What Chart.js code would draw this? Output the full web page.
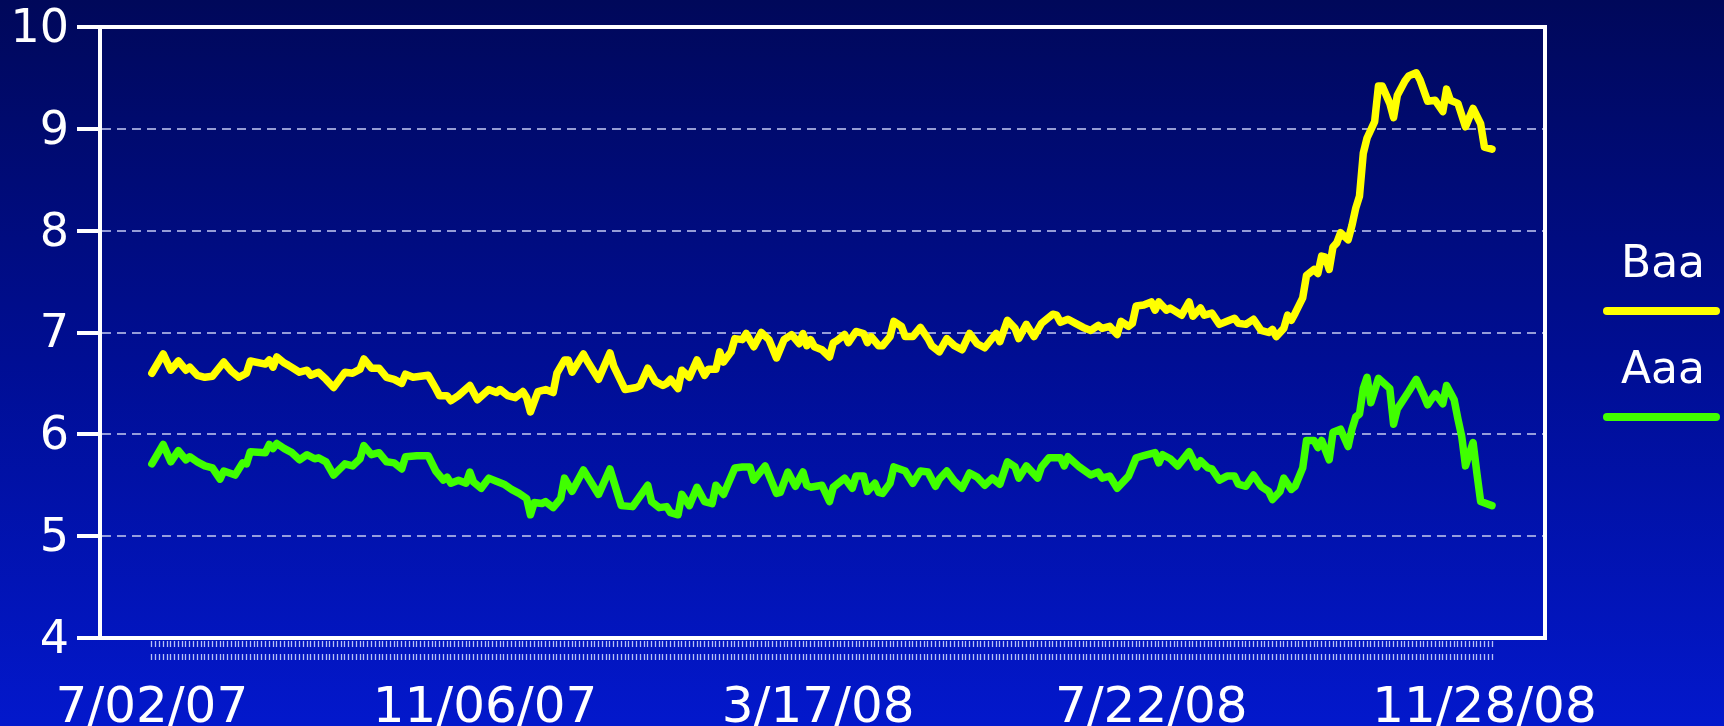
<!DOCTYPE html>
<html>
<head>
<meta charset="utf-8">
<script src="https://cdn.jsdelivr.net/npm/chart.js@4.4.1/dist/chart.umd.min.js"></script>
<style>
    html, body { margin: 0; padding: 0; background: #000c7a; }
    #wrap { width: 1724px; height: 726px; }
</style>
</head>
<body>
<div id="wrap"><canvas id="yieldChart" width="1724" height="726"></canvas></div>
<script>
// trading days on the x axis, 7/02/07 .. early 12/08
const tradingDays = 355;
const tickDays = [0, 88, 176, 264, 352];
const tickLabels = ['7/02/07', '11/06/07', '3/17/08', '7/22/08', '11/28/08'];

// Baa yields
const baaDays = [0,3,5,7,9,10,12,14,16,19,21,23,25,26,30,31,32,33,35,36,39,41,42,44,46,48,51,53,55,56,58,60,62,64,66,67,69,73,75,76,78,79,81,84,86,89,91,92,94,96,98,99,100,102,104,106,107,109,110,111,114,115,118,121,122,125,128,129,131,133,135,136,137,139,140,142,144,146,147,149,150,151,153,154,156,157,159,161,163,165,167,169,171,172,173,174,175,177,179,180,181,183,184,186,188,189,190,192,193,195,196,198,199,201,203,205,206,208,210,212,214,216,218,220,223,224,226,228,229,231,233,235,238,239,240,242,244,246,248,250,251,253,255,256,258,259,260,262,264,265,266,268,269,272,274,275,277,278,280,282,284,286,287,289,291,293,295,296,297,299,300,301,302,304,305,307,308,309,310,311,312,313,314,316,317,318,319,320,321,323,324,325,327,328,329,331,332,334,335,337,339,341,342,343,345,347,349,351,352,354];
const baaRates = [6.60,6.79,6.63,6.72,6.63,6.66,6.58,6.56,6.57,6.71,6.62,6.56,6.60,6.72,6.69,6.73,6.66,6.76,6.70,6.68,6.61,6.63,6.58,6.61,6.54,6.46,6.61,6.60,6.64,6.74,6.65,6.65,6.56,6.54,6.50,6.59,6.56,6.58,6.45,6.38,6.38,6.33,6.38,6.48,6.34,6.44,6.41,6.44,6.38,6.36,6.42,6.36,6.22,6.42,6.44,6.41,6.60,6.73,6.73,6.61,6.79,6.72,6.54,6.80,6.67,6.44,6.46,6.48,6.65,6.52,6.48,6.50,6.54,6.45,6.63,6.56,6.73,6.58,6.64,6.64,6.81,6.71,6.81,6.94,6.93,6.99,6.86,7.00,6.93,6.75,6.93,6.98,6.89,6.99,6.87,6.93,6.86,6.83,6.76,6.90,6.92,6.98,6.90,7.01,6.99,6.90,6.96,6.87,6.87,6.96,7.11,7.06,6.96,6.96,7.05,6.94,6.87,6.81,6.94,6.87,6.83,6.99,6.89,6.85,6.99,6.91,7.12,7.04,6.94,7.08,6.96,7.09,7.18,7.17,7.10,7.13,7.09,7.05,7.02,7.07,7.04,7.06,6.98,7.11,7.06,7.09,7.26,7.27,7.30,7.22,7.30,7.22,7.24,7.17,7.30,7.16,7.24,7.17,7.19,7.08,7.11,7.14,7.09,7.08,7.13,7.02,7.00,7.03,6.96,7.04,7.17,7.12,7.19,7.34,7.56,7.62,7.58,7.75,7.74,7.62,7.84,7.88,7.98,7.91,8.05,8.22,8.34,8.76,8.91,9.07,9.42,9.42,9.25,9.11,9.33,9.47,9.52,9.55,9.48,9.27,9.28,9.17,9.39,9.28,9.25,9.02,9.20,9.05,8.82,8.80];

// Aaa yields
const aaaDays = [0,3,5,7,9,10,12,14,16,18,19,22,24,25,26,30,31,32,33,35,37,39,41,43,44,46,48,51,53,55,56,58,60,62,64,66,67,70,73,75,77,78,79,81,83,84,85,87,89,91,93,95,97,99,100,101,103,104,106,108,109,111,114,118,121,124,127,131,132,134,136,137,139,140,142,144,146,148,149,151,154,156,158,159,162,165,166,168,170,172,173,174,177,179,180,183,185,186,188,189,191,192,193,195,196,199,201,203,205,207,208,210,212,214,216,218,220,222,224,226,228,229,231,234,235,237,240,241,242,245,248,250,251,253,255,257,258,260,262,265,266,267,269,271,274,276,277,279,280,282,284,286,287,289,291,293,295,296,298,299,301,302,304,305,307,308,309,311,312,314,316,317,318,319,320,321,322,324,327,328,329,332,334,336,337,339,341,342,344,345,346,347,349,350,351,354];
const aaaRates = [5.71,5.90,5.73,5.84,5.75,5.78,5.73,5.69,5.67,5.56,5.64,5.60,5.72,5.71,5.83,5.82,5.90,5.86,5.91,5.86,5.82,5.75,5.80,5.76,5.77,5.73,5.60,5.71,5.69,5.76,5.89,5.80,5.82,5.73,5.72,5.66,5.78,5.79,5.79,5.64,5.55,5.58,5.52,5.55,5.52,5.63,5.53,5.47,5.57,5.54,5.51,5.46,5.42,5.37,5.21,5.33,5.32,5.34,5.28,5.37,5.57,5.44,5.65,5.41,5.66,5.30,5.29,5.50,5.34,5.28,5.29,5.23,5.21,5.41,5.30,5.48,5.34,5.32,5.50,5.41,5.67,5.68,5.68,5.55,5.69,5.42,5.43,5.63,5.49,5.63,5.50,5.48,5.50,5.34,5.48,5.57,5.47,5.59,5.59,5.44,5.52,5.43,5.42,5.52,5.68,5.64,5.52,5.64,5.63,5.49,5.56,5.64,5.54,5.47,5.62,5.58,5.50,5.57,5.51,5.73,5.68,5.57,5.69,5.57,5.68,5.77,5.77,5.69,5.78,5.68,5.60,5.63,5.57,5.59,5.47,5.55,5.59,5.77,5.79,5.82,5.72,5.80,5.76,5.69,5.83,5.68,5.74,5.67,5.66,5.55,5.59,5.59,5.51,5.49,5.60,5.49,5.44,5.36,5.44,5.57,5.46,5.49,5.67,5.94,5.94,5.87,5.94,5.75,6.02,6.05,5.88,6.05,6.17,6.20,6.45,6.56,6.31,6.55,6.45,6.10,6.25,6.42,6.54,6.38,6.29,6.40,6.30,6.48,6.34,6.15,5.98,5.69,5.92,5.62,5.34,5.30];

const toPoints = (days, rates) => days.map((d, i) => ({ x: d, y: rates[i] }));

Chart.defaults.font.family = '"DejaVu Sans", sans-serif';
Chart.defaults.color = '#ffffff';

// fondo degradado
const bgPlugin = {
    id: 'bg',
    beforeDraw(chart) {
        const ctx = chart.ctx;
        const g = ctx.createLinearGradient(0, 0, 0, chart.height);
        g.addColorStop(0, '#00085a');
        g.addColorStop(0.5, '#000e94');
        g.addColorStop(1, '#0318cc');
        ctx.save();
        ctx.fillStyle = g;
        ctx.fillRect(0, 0, chart.width, chart.height);
        ctx.restore();
    }
};

// marco blanco + leyenda a la derecha
const framePlugin = {
    id: 'frame',
    afterDraw(chart) {
        const { ctx, chartArea: a } = chart;
        ctx.save();
        ctx.strokeStyle = '#ffffff';
        ctx.lineWidth = 4;
        ctx.strokeRect(a.left, a.top, a.right - a.left, a.bottom - a.top);

        const cx = a.right + 118;
        const baselines = [277, 383];
        ctx.font = '44px "DejaVu Sans"';
        ctx.textAlign = 'center';
        ctx.textBaseline = 'alphabetic';
        ctx.lineCap = 'round';
        chart.data.datasets.forEach((ds, i) => {
            ctx.fillStyle = '#ffffff';
            ctx.fillText(ds.label, cx, baselines[i]);
            ctx.strokeStyle = ds.borderColor;
            ctx.lineWidth = 8;
            ctx.beginPath();
            ctx.moveTo(a.right + 62, baselines[i] + 34);
            ctx.lineTo(a.right + 171, baselines[i] + 34);
            ctx.stroke();
        });
        ctx.restore();
    }
};

new Chart(document.getElementById('yieldChart'), {
    type: 'line',
    data: {
        datasets: [{
            label: 'Baa',
            data: toPoints(baaDays, baaRates),
            borderColor: '#ffff00',
            borderWidth: 7.5,
            pointRadius: 0,
            tension: 0,
            borderJoinStyle: 'round',
            borderCapStyle: 'round'
        }, {
            label: 'Aaa',
            data: toPoints(aaaDays, aaaRates),
            borderColor: '#40ff00',
            borderWidth: 7.5,
            pointRadius: 0,
            tension: 0,
            borderJoinStyle: 'round',
            borderCapStyle: 'round'
        }]
    },
    options: {
        responsive: false,
        animation: false,
        devicePixelRatio: 1,
        layout: { padding: { top: 27, right: 179, left: 0, bottom: 0 } },
        plugins: {
            legend: { display: false },
            tooltip: { enabled: false }
        },
        scales: {
            x: {
                type: 'linear',
                min: -13.7,
                max: 368,
                afterBuildTicks: (scale) => {
                    scale.ticks = Array.from({ length: tradingDays }, (_, i) => ({ value: i }));
                },
                afterFit: (scale) => { scale.height = 88; },
                border: { color: '#ffffff', width: 4 },
                grid: {
                    drawOnChartArea: false,
                    tickLength: 22,
                    tickColor: 'rgba(215,222,255,0.85)',
                    tickWidth: 1.3,
                    tickBorderDash: [6, 7],
                    tickBorderDashOffset: 12
                },
                ticks: {
                    autoSkip: false,
                    maxRotation: 0,
                    minRotation: 0,
                    padding: 19,
                    color: '#ffffff',
                    font: { size: 50 },
                    callback: (value) => {
                        const k = tickDays.indexOf(value);
                        return k >= 0 ? tickLabels[k] : '';
                    }
                }
            },
            y: {
                min: 4,
                max: 10,
                afterFit: (scale) => {
                    scale.width = 100;
                    scale.paddingTop = 0;
                    scale.paddingBottom = 0;
                },
                border: { color: '#ffffff', width: 4, dash: [9, 6] },
                grid: {
                    lineWidth: 2,
                    color: (ctx) => (ctx.tick && (ctx.tick.value === 4 || ctx.tick.value === 10))
                        ? 'rgba(0,0,0,0)' : 'rgba(175,182,230,0.85)',
                    tickColor: '#ffffff',
                    tickWidth: 4,
                    tickLength: 23
                },
                ticks: {
                    stepSize: 1,
                    padding: 8,
                    labelOffset: 3,
                    color: '#ffffff',
                    font: { size: 46 }
                }
            }
        }
    },
    plugins: [bgPlugin, framePlugin]
});
</script>
</body>
</html>
